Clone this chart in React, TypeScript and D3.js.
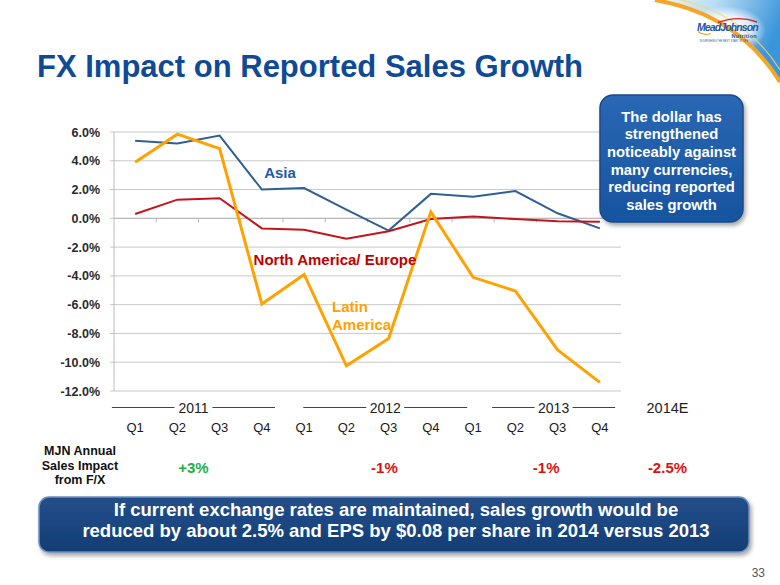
import React from "react";
import * as d3 from "d3";

const quarters = ["Q1", "Q2", "Q3", "Q4", "Q1", "Q2", "Q3", "Q4", "Q1", "Q2", "Q3", "Q4"];
const asia = [5.4, 5.2, 5.75, 2.0, 2.1, 0.6, -0.85, 1.7, 1.5, 1.9, 0.35, -0.7];
const northAmericaEurope = [0.3, 1.3, 1.4, -0.7, -0.8, -1.42, -0.9, -0.05, 0.12, -0.05, -0.2, -0.23];
const latinAmerica = [3.9, 5.85, 4.85, -5.95, -3.9, -10.25, -8.35, 0.45, -4.1, -5.05, -9.15, -11.4];
const yTicks = [-12, -10, -8, -6, -4, -2, 0, 2, 4, 6];

// year groups: label and span in quarter-index units
const years = ["2011", "2012", "2013"];
const yearStart = [-0.55, 3.98, 8.45];
const yearEnd = [3.31, 7.86, 11.36];

const impactLabels = ["+3%", "-1%", "-1%", "-2.5%"];
const impactPos = [1.38, 5.9, 9.73, 12.6]; // quarter-index units
const impactColors = ["#1db14b", "#e01010", "#e01010", "#e01010"];

const seriesLabels = [
  { lines: ["Asia"], qi: 3.43, v: 3.15, color: "#1f5ba0", anchor: "middle" },
  { lines: ["North America/ Europe"], qi: 4.73, v: -2.84, color: "#c00000", anchor: "middle" },
  { lines: ["Latin", "America"], qi: 4.66, v: -6.15, color: "#ffa200", anchor: "start" },
];

const calloutLines = [
  "The dollar has",
  "strengthened",
  "noticeably against",
  "many currencies,",
  "reducing reported",
  "sales growth",
];
const bottomLines = [
  "If current exchange rates are maintained, sales growth would be",
  "reduced by about 2.5% and EPS by $0.08 per share in 2014 versus 2013",
];

const W = 780;
const H = 585;
const FONT = "'Liberation Sans', Arial, sans-serif";

export default function App() {
  const x = d3.scaleBand<number>().domain(d3.range(12)).range([114, 621]).padding(0);
  const bw = x.bandwidth();
  const y = d3.scaleLinear().domain([-12, 6]).range([391, 132]);
  const xi = d3
    .scaleLinear()
    .domain([0, 11])
    .range([(x(0) as number) + bw / 2, (x(11) as number) + bw / 2]);

  const line = d3
    .line<number>()
    .x((_, i) => xi(i))
    .y((d) => y(d));

  const series = [
    { data: asia, color: "#2f5f95", width: 2 },
    { data: northAmericaEurope, color: "#c4141c", width: 2 },
    { data: latinAmerica, color: "#ffa200", width: 3 },
  ];

  const arc = "M 655 0 Q 738 14 780 82";

  return (
    <svg
      width={W}
      height={H}
      style={{ position: "absolute", left: 0, top: 0, background: "#fff" }}
      fontFamily={FONT}
    >
      <defs>
        <linearGradient id="sky" x1="0" y1="0" x2="1" y2="0.3">
          <stop offset="0" stopColor="#eef7fd" />
          <stop offset="0.45" stopColor="#b9ddf5" />
          <stop offset="1" stopColor="#3a95da" />
        </linearGradient>
        <radialGradient id="glow" cx="0.5" cy="0.5" r="0.5">
          <stop offset="0" stopColor="#ffffff" stopOpacity="1" />
          <stop offset="0.6" stopColor="#ffffff" stopOpacity="0.8" />
          <stop offset="1" stopColor="#ffffff" stopOpacity="0" />
        </radialGradient>
        <linearGradient id="callout" x1="0" y1="0" x2="0" y2="1">
          <stop offset="0" stopColor="#2a67b3" />
          <stop offset="1" stopColor="#17549f" />
        </linearGradient>
        <linearGradient id="bottomBox" x1="0" y1="0" x2="0" y2="1">
          <stop offset="0" stopColor="#244f88" />
          <stop offset="0.5" stopColor="#1b4681" />
          <stop offset="1" stopColor="#163d72" />
        </linearGradient>
        <filter id="shadow" x="-10%" y="-10%" width="130%" height="130%">
          <feDropShadow dx="2" dy="3" stdDeviation="2" floodColor="#000" floodOpacity="0.35" />
        </filter>
        <clipPath id="skyClip">
          <path d={`${arc} L 780 0 Z`} />
        </clipPath>
      </defs>

      {/* logo corner */}
      <path d={`${arc} L 780 0 Z`} fill="url(#sky)" />
      <ellipse cx={726} cy={30} rx={40} ry={24} fill="url(#glow)" clipPath="url(#skyClip)" />
      <path d={arc} fill="none" stroke="#f6a623" strokeWidth={4} />
      <path d="M 672 -2 Q 744 12 780 70" fill="none" stroke="#fbd36b" strokeWidth={1.2} opacity={0.8} />
      <path d="M 718 22.5 Q 738 15 757 22" fill="none" stroke="#d8232a" strokeWidth={1.4} />
      <text x={697} y={31} fontSize={10.5} fontWeight="bold" fontStyle="italic" fill="#1c56a6" letterSpacing={-0.9}>
        MeadJohnson
      </text>
      <text x={757} y={37.5} fontSize={5.5} fontWeight="bold" fill="#1c56a6" textAnchor="end" letterSpacing={0.3}>
        Nutrition
      </text>
      <text x={724} y={42} fontSize={2.6} fill="#1c56a6" textAnchor="middle">
        NOURISHING THE BEST START IN LIFE
      </text>
      <path d="M 698 31.5 Q 703 36 711 33.5" fill="none" stroke="#f6a623" strokeWidth={1.2} />

      {/* title */}
      <text x={37} y={77} fontSize={31} fontWeight="bold" fill="#0e4a96">
        FX Impact on Reported Sales Growth
      </text>

      {/* gridlines */}
      {yTicks.map((t) => (
        <line key={`g${t}`} x1={110} x2={621} y1={y(t)} y2={y(t)} stroke="#c8c8c8" strokeWidth={1} />
      ))}
      <line x1={114} x2={114} y1={y(6)} y2={y(-12)} stroke="#bdbdbd" strokeWidth={1} />
      <line x1={114} x2={621} y1={y(0)} y2={y(0)} stroke="#b5b5b5" strokeWidth={1} />
      {d3.range(1, 12).map((i) => (
        <line
          key={`t${i}`}
          x1={x(i) as number}
          x2={x(i) as number}
          y1={y(0)}
          y2={y(0) + 4}
          stroke="#b5b5b5"
          strokeWidth={1}
        />
      ))}

      {/* y labels */}
      {yTicks.map((t) => (
        <text
          key={`yl${t}`}
          x={100}
          y={y(t)}
          dy="0.36em"
          textAnchor="end"
          fontSize={12.5}
          fontWeight="bold"
          fill="#2a2a2a"
        >
          {t.toFixed(1) + "%"}
        </text>
      ))}

      {/* series lines */}
      {series.map((s, k) => (
        <path
          key={`s${k}`}
          d={line(s.data) as string}
          fill="none"
          stroke={s.color}
          strokeWidth={s.width}
          strokeLinejoin="miter"
        />
      ))}

      {/* series labels */}
      {seriesLabels.map((l, k) => (
        <text
          key={`sl${k}`}
          x={xi(l.qi)}
          y={y(l.v)}
          textAnchor={l.anchor}
          fontSize={15}
          fontWeight="bold"
          fill={l.color}
        >
          {l.lines.map((ln, j) => (
            <tspan key={j} x={xi(l.qi)} dy={j === 0 ? "0.36em" : "1.2em"}>
              {ln}
            </tspan>
          ))}
        </text>
      ))}

      {/* callout box */}
      <rect x={600} y={95} width={143} height={127} rx={13} fill="url(#callout)" stroke="#174a8c" strokeWidth={1.5} filter="url(#shadow)" />
      {calloutLines.map((ln, j) => (
        <text
          key={`c${j}`}
          x={671.5}
          y={121.5 + j * 17.7}
          textAnchor="middle"
          fontSize={14.8}
          fontWeight="bold"
          fill="#ffffff"
        >
          {ln}
        </text>
      ))}

      {/* year groups */}
      {years.map((yr, k) => {
        const a = xi(yearStart[k]);
        const b = xi(yearEnd[k]);
        const c = (a + b) / 2;
        return (
          <g key={yr}>
            <line x1={a} x2={c - 19} y1={407.5} y2={407.5} stroke="#444" strokeWidth={1} />
            <line x1={c + 19} x2={b} y1={407.5} y2={407.5} stroke="#444" strokeWidth={1} />
            <text x={c} y={413} textAnchor="middle" fontSize={14} fill="#222">
              {yr}
            </text>
          </g>
        );
      })}
      <text x={xi(12.6)} y={413} textAnchor="middle" fontSize={14.5} fill="#222">
        2014E
      </text>

      {/* quarter labels */}
      {quarters.map((q, i) => (
        <text key={`q${i}`} x={xi(i)} y={432} textAnchor="middle" fontSize={13} fill="#1a1a1a">
          {q}
        </text>
      ))}

      {/* MJN annual impact */}
      {["MJN Annual", "Sales Impact", "from F/X"].map((ln, j) => (
        <text key={`m${j}`} x={80} y={455 + j * 14.5} textAnchor="middle" fontSize={12.5} fontWeight="bold" fill="#111">
          {ln}
        </text>
      ))}
      {impactLabels.map((lb, k) => (
        <text
          key={`i${k}`}
          x={xi(impactPos[k])}
          y={473}
          textAnchor="middle"
          fontSize={15}
          fontWeight="bold"
          fill={impactColors[k]}
        >
          {lb}
        </text>
      ))}

      {/* bottom box */}
      <rect x={39} y={497} width={710} height={55} rx={10} fill="url(#bottomBox)" stroke="#6d8fc0" strokeWidth={1.5} filter="url(#shadow)" />
      {bottomLines.map((ln, j) => (
        <text key={`b${j}`} x={396} y={516 + j * 21} textAnchor="middle" fontSize={18.5} fontWeight="bold" fill="#ffffff">
          {ln}
        </text>
      ))}

      {/* page number */}
      <text x={765} y={577} textAnchor="end" fontSize={12} fill="#555">
        33
      </text>
    </svg>
  );
}
